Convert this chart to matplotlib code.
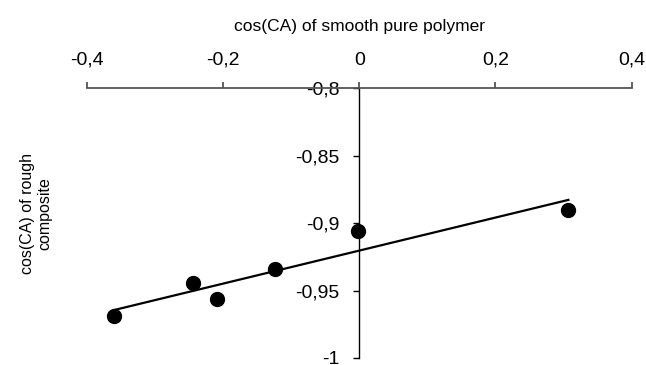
import numpy as np
import matplotlib
matplotlib.use("Agg")
from matplotlib import pyplot as plt
from matplotlib.ticker import FuncFormatter

plt.rcParams['font.family'] = ['Liberation Sans', 'DejaVu Sans']

# cos of contact angle: smooth pure polymer vs rough composite
cos_smooth = [-0.360, -0.244, -0.209, -0.123, -0.002, 0.307]
cos_rough = [-0.969, -0.9446, -0.9565, -0.9338, -0.9056, -0.890]

x_ticks = [-0.4, -0.2, 0, 0.2, 0.4]
y_ticks = [-1, -0.95, -0.9, -0.85, -0.8]


def comma(v, pos=None):
    s = ('%.2f' % v).rstrip('0').rstrip('.')
    if s == '-0':
        s = '0'
    return s.replace('.', ',')


fig = plt.figure(figsize=(6.46, 3.65), dpi=100)
ax = fig.add_axes([0.1342, 0.0192, 0.8437, 0.7389])

ax.plot(cos_smooth, cos_rough, 'o', color='black', markersize=10, zorder=3)

# linear trendline
k, b = np.polyfit(cos_smooth, cos_rough, 1)
xs = np.array([min(cos_smooth), max(cos_smooth)])
ax.plot(xs, k * xs + b, '-', color='black', lw=1.6)

ax.set_xlim(-0.4, 0.4)
ax.set_ylim(-1, -0.8)
ax.set_xticks(x_ticks)
ax.set_yticks(y_ticks)
ax.xaxis.set_major_formatter(FuncFormatter(comma))
ax.yaxis.set_major_formatter(FuncFormatter(comma))

ax.xaxis.tick_top()
ax.xaxis.set_label_position('top')
ax.spines['bottom'].set_visible(False)
ax.spines['right'].set_visible(False)
ax.spines['top'].set_color('#555555')
ax.spines['top'].set_linewidth(1.3)
ax.spines['left'].set_position(('data', 0))
ax.spines['left'].set_linewidth(1.0)
ax.tick_params(axis='x', direction='out', length=4.5, width=1.3, color='#555555',
               labelsize=14, pad=9.5)
ax.tick_params(axis='y', direction='out', length=4.5, width=1.0,
               labelsize=14, pad=9.5)

ax.set_xlabel('cos(CA) of smooth pure polymer', fontsize=12.5, labelpad=15)
fig.text(0.056, 0.416, 'cos(CA) of rough\ncomposite', rotation=90,
         ha='center', va='center', fontsize=11.5, multialignment='center',
         linespacing=1.15)

ax.patch.set_visible(False)
fig.savefig('out.png', dpi=100)
